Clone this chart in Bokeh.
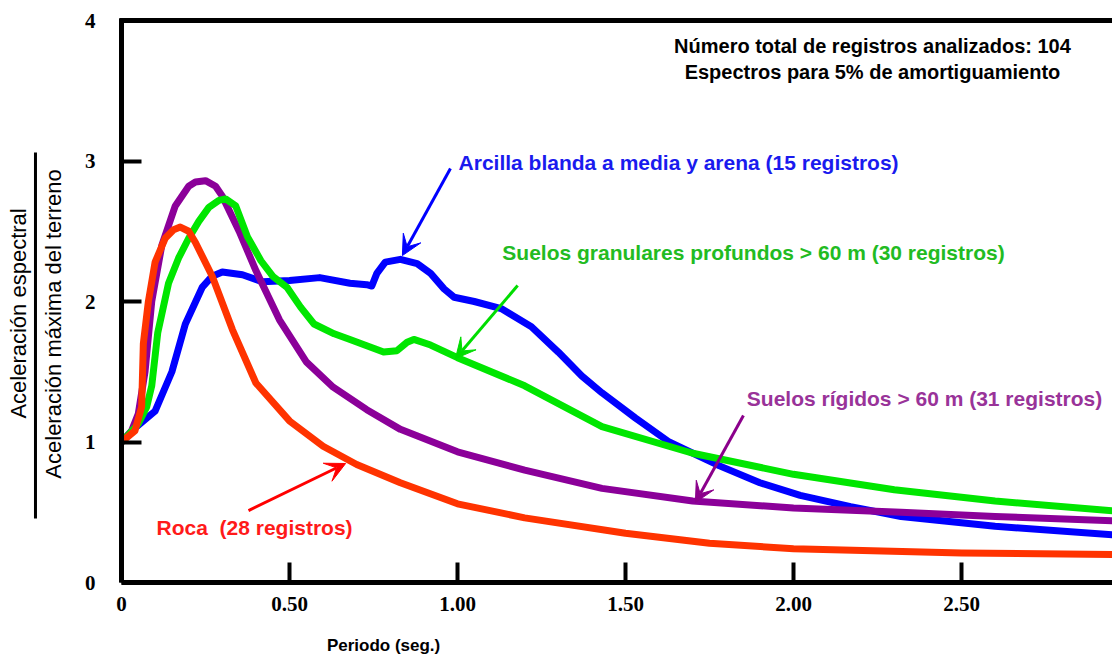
from math import pi
from bokeh.plotting import figure
from bokeh.models import Range1d, FixedTicker, LinearAxis, Label, Arrow, VeeHead
from bokeh.embed import file_html
from bokeh.resources import INLINE

# ---- data ----
x_ticks = [0, 0.5, 1.0, 1.5, 2.0, 2.5]
x_tick_labels = ["0", "0.50", "1.00", "1.50", "2.00", "2.50"]
y_ticks = [0, 1, 2, 3, 4]
y_tick_labels = ["0", "1", "2", "3", "4"]

blue_T = [0, 0.04, 0.1, 0.15, 0.19, 0.24, 0.27, 0.3, 0.36, 0.42, 0.5, 0.59, 0.68, 0.73, 0.745,
          0.76, 0.785, 0.83, 0.88, 0.92, 0.96, 0.99, 1.05, 1.13, 1.22, 1.3, 1.37, 1.43, 1.53,
          1.63, 1.78, 1.9, 2.02, 2.17, 2.32, 2.6, 2.95]
blue_S = [1.0, 1.1, 1.22, 1.5, 1.84, 2.10, 2.18, 2.21, 2.19, 2.14, 2.15, 2.17, 2.13, 2.12, 2.11,
          2.2, 2.28, 2.30, 2.27, 2.20, 2.09, 2.03, 2.00, 1.95, 1.82, 1.64, 1.47, 1.35, 1.17,
          1.00, 0.83, 0.71, 0.62, 0.54, 0.47, 0.40, 0.34]

green_T = [0, 0.02, 0.05, 0.075, 0.09, 0.108, 0.14, 0.17, 0.2, 0.23, 0.26, 0.29, 0.31, 0.34,
           0.375, 0.415, 0.45, 0.493, 0.533, 0.573, 0.633, 0.68, 0.78, 0.82, 0.85, 0.87, 0.92,
           1.0, 1.2, 1.43, 1.7, 2.0, 2.3, 2.6, 2.95]
green_S = [1.0, 1.05, 1.13, 1.25, 1.4, 1.78, 2.13, 2.31, 2.45, 2.57, 2.67, 2.72, 2.73, 2.68,
           2.46, 2.29, 2.18, 2.10, 1.96, 1.84, 1.77, 1.73, 1.64, 1.65, 1.71, 1.73, 1.69,
           1.60, 1.40, 1.11, 0.92, 0.77, 0.66, 0.58, 0.51]

purple_T = [0, 0.03, 0.05, 0.07, 0.09, 0.12, 0.16, 0.2, 0.22, 0.25, 0.28, 0.3, 0.35, 0.4, 0.47,
            0.55, 0.63, 0.73, 0.83, 1.0, 1.2, 1.43, 1.7, 2.0, 2.32, 2.6, 2.95]
purple_S = [1.0, 1.08, 1.2, 1.5, 2.0, 2.4, 2.68, 2.82, 2.85, 2.86, 2.82, 2.75, 2.5, 2.22, 1.87,
            1.57, 1.39, 1.23, 1.09, 0.93, 0.80, 0.67, 0.58, 0.53, 0.50, 0.47, 0.44]

red_T = [0, 0.04, 0.06, 0.065, 0.08, 0.1, 0.13, 0.155, 0.175, 0.2, 0.22, 0.27, 0.33, 0.4, 0.5,
         0.6, 0.7, 0.83, 1.0, 1.2, 1.5, 1.75, 2.0, 2.5, 2.95]
red_S = [1.0, 1.08, 1.25, 1.7, 2.0, 2.28, 2.45, 2.51, 2.53, 2.5, 2.42, 2.18, 1.8, 1.42, 1.15,
         0.97, 0.84, 0.71, 0.56, 0.46, 0.35, 0.28, 0.24, 0.21, 0.20]

BLUE, GREEN, PURPLE, RED = "#0000ff", "#00e600", "#8b0099", "#ff3300"

p = figure(width=1112, height=656, output_backend="svg", toolbar_location=None,
           x_range=Range1d(-121 / 336, 991 / 336), y_range=Range1d(-74 / 140.5, 582 / 140.5),
           x_axis_location=None, y_axis_location=None,
           min_border_left=0, min_border_right=0, min_border_top=0, min_border_bottom=0)
p.outline_line_color = None
p.xgrid.visible = False
p.ygrid.visible = False
p.background_fill_color = "white"
p.border_fill_color = "white"


def style_axis(ax):
    ax.axis_line_width = 5
    ax.axis_line_color = "black"
    ax.major_tick_in = 20
    ax.major_tick_out = 0
    ax.major_tick_line_width = 4
    ax.major_tick_line_color = "black"
    ax.minor_tick_line_color = None
    ax.major_label_text_font = "Liberation Serif"
    ax.major_label_text_font_style = "bold"
    ax.major_label_text_font_size = "21px"
    ax.major_label_text_color = "black"


xax = LinearAxis(fixed_location=0, bounds=(0, 2.96), ticker=FixedTicker(ticks=x_ticks))
style_axis(xax)
xax.major_label_overrides = dict(zip(x_ticks, x_tick_labels))
xax.major_label_standoff = 14
p.add_layout(xax, "below")

yax = LinearAxis(fixed_location=0, bounds=(0, 4.015), ticker=FixedTicker(ticks=y_ticks))
style_axis(yax)
yax.major_label_overrides = dict(zip(y_ticks, y_tick_labels))
yax.major_label_standoff = 26
p.add_layout(yax, "left")

top = LinearAxis(fixed_location=4, bounds=(-0.007, 2.96), ticker=FixedTicker(ticks=[]),
                 axis_line_width=5, axis_line_color="black", major_tick_in=0, major_tick_out=0,
                 minor_tick_line_color=None, major_label_text_font_size="0px")
p.add_layout(top, "above")

p.line(blue_T, blue_S, line_color=BLUE, line_width=7, line_join="round")
p.line(purple_T, purple_S, line_color=PURPLE, line_width=7, line_join="round")
p.line(green_T, green_S, line_color=GREEN, line_width=7, line_join="round")
p.line(red_T, red_S, line_color=RED, line_width=7, line_join="round")


def lab(x, y, text, color, size="21px", style="bold", angle=0, font="Liberation Sans"):
    p.add_layout(Label(x=x, y=y, text=text, text_color=color, text_font=font,
                       text_font_size=size, text_font_style=style, angle=angle,
                       text_align="center", text_baseline="middle"))


lab(1.658, 2.989, "Arcilla blanda a media y arena (15 registros)", "#1a1aee")
lab(1.881, 2.349, "Suelos granulares profundos > 60 m (30 registros)", "#22bb22")
lab(2.39, 1.31, "Suelos rígidos > 60 m (31 registros)", "#993399")
lab(0.396, 0.391, "Roca \u00a0(28 registros)", "#ff1a1a")
lab(2.235, 3.822, "Número total de registros analizados: 104", "black", size="20px")
lab(2.235, 3.637, "Espectros para 5% de amortiguamiento", "black", size="20px")
lab(0.78, -0.448, "Periodo (seg.)", "black", size="17px")
lab(-0.3065, 1.915, "Aceleración espectral", "black", size="22px", style="normal", angle=pi / 2)
lab(-0.2024, 1.84, "Aceleración máxima del terreno", "black", size="22px", style="normal", angle=pi / 2)

p.add_layout(Arrow(end=None, x_start=-0.256, y_start=3.06, x_end=-0.256, y_end=0.455,
                   line_color="black", line_width=3))


def arr(x0, y0, x1, y1, color):
    p.add_layout(Arrow(end=VeeHead(size=20, fill_color=color, line_color=color),
                       x_start=x0, y_start=y0, x_end=x1, y_end=y1,
                       line_color=color, line_width=3))


arr(0.979, 2.947, 0.836, 2.327, "#0000ff")
arr(1.179, 2.114, 0.994, 1.594, "#00dd00")
arr(1.851, 1.189, 1.708, 0.569, "#8b008b")
arr(0.378, 0.512, 0.667, 0.847, "#ff0000")

open("out.html", "w").write(file_html(p, INLINE))
